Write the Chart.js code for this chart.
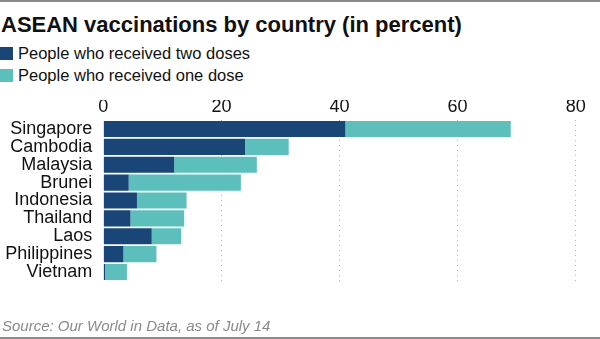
<!DOCTYPE html>
<html>
<head>
<meta charset="utf-8">
<script src="https://cdn.jsdelivr.net/npm/chart.js@4/dist/chart.umd.min.js"></script>
<style>
  html, body { margin: 0; padding: 0; background: #fff; }
  body { width: 600px; height: 339px; position: relative; overflow: hidden; font-family: "Liberation Sans", Arial, sans-serif; }
  #wrap { position: absolute; left: 0; top: 0; width: 600px; height: 339px; }
  .topline { position: absolute; left: 0; top: 0; width: 600px; height: 2px; background: #8a8a8a; }
  .botline { position: absolute; left: 0; top: 337px; width: 600px; height: 2px; background: #8a8a8a; }
  .title { position: absolute; left: 1px; top: 11.5px; font-size: 22px; line-height: 25px; font-weight: bold; color: #111; white-space: nowrap; }
  .leg { position: absolute; left: 18px; font-size: 16.5px; color: #111; white-space: nowrap; line-height: 20px; }
  .sw { position: absolute; left: 0; width: 13px; height: 12.5px; }
  .source { position: absolute; left: 2px; top: 317px; font-size: 15px; line-height: 18px; font-style: italic; color: #8a8a8a; white-space: nowrap; }
</style>
</head>
<body>
<div class="topline"></div>
<div class="title">ASEAN vaccinations by country (in percent)</div>
<div class="sw" style="top:47px;background:#1a4677"></div>
<div class="leg" style="top:43.3px">People who received two doses</div>
<div class="sw" style="top:69px;background:#5cbfbc"></div>
<div class="leg" style="top:65px">People who received one dose</div>
<div id="wrap"><canvas id="c" width="600" height="339"></canvas></div>
<div class="source">Source: Our World in Data, as of July 14</div>
<div class="botline"></div>
<script>
const countries = ["Singapore", "Cambodia", "Malaysia", "Brunei", "Indonesia", "Thailand", "Laos", "Philippines", "Vietnam"];
const twoDoses = [41.0, 24.0, 12.0, 4.3, 5.7, 4.6, 8.2, 3.4, 0.3];
const oneDoseOnly = [28.0, 7.4, 14.0, 19.0, 8.4, 9.1, 5.0, 5.6, 3.7];
const seriesNames = ["People who received two doses", "People who received one dose"];
const xTicks = [0, 20, 40, 60, 80];

const FONT = "'Liberation Sans', Arial, sans-serif";

new Chart(document.getElementById("c"), {
  type: "bar",
  data: {
    labels: countries,
    datasets: [
      { label: seriesNames[0], data: twoDoses, backgroundColor: "#1a4677", borderWidth: 0, barPercentage: 0.9, categoryPercentage: 1.0 },
      { label: seriesNames[1], data: oneDoseOnly, backgroundColor: "#5cbfbc", borderWidth: 0, barPercentage: 0.9, categoryPercentage: 1.0 }
    ]
  },
  options: {
    indexAxis: "y",
    responsive: false,
    animation: false,
    events: [],
    layout: { padding: { left: 0, right: 24.3, top: 100, bottom: 58 } },
    plugins: { legend: { display: false }, tooltip: { enabled: false }, title: { display: false } },
    scales: {
      x: {
        position: "top",
        stacked: true,
        min: xTicks[0],
        max: xTicks[xTicks.length - 1],
        afterBuildTicks: (s) => { s.ticks = xTicks.map(v => ({ value: v })); },
        afterFit: (s) => { s.height = 20; },
        grid: {
          drawTicks: false,
          lineWidth: 1,
          color: (ctx) => (ctx.tick && ctx.tick.value === 0) ? "rgba(0,0,0,0)" : "#b5b5b5"
        },
        border: { display: false, dash: [1, 4] },
        ticks: { padding: 2, color: "#111", font: { family: FONT, size: 18 } }
      },
      y: {
        stacked: true,
        afterFit: (s) => { s.width = 103.3; },
        grid: { display: false, drawTicks: false },
        border: { display: false },
        ticks: { autoSkip: false, padding: 11, color: "#111", font: { family: FONT, size: 18 } }
      }
    }
  }
});
</script>
</body>
</html>
